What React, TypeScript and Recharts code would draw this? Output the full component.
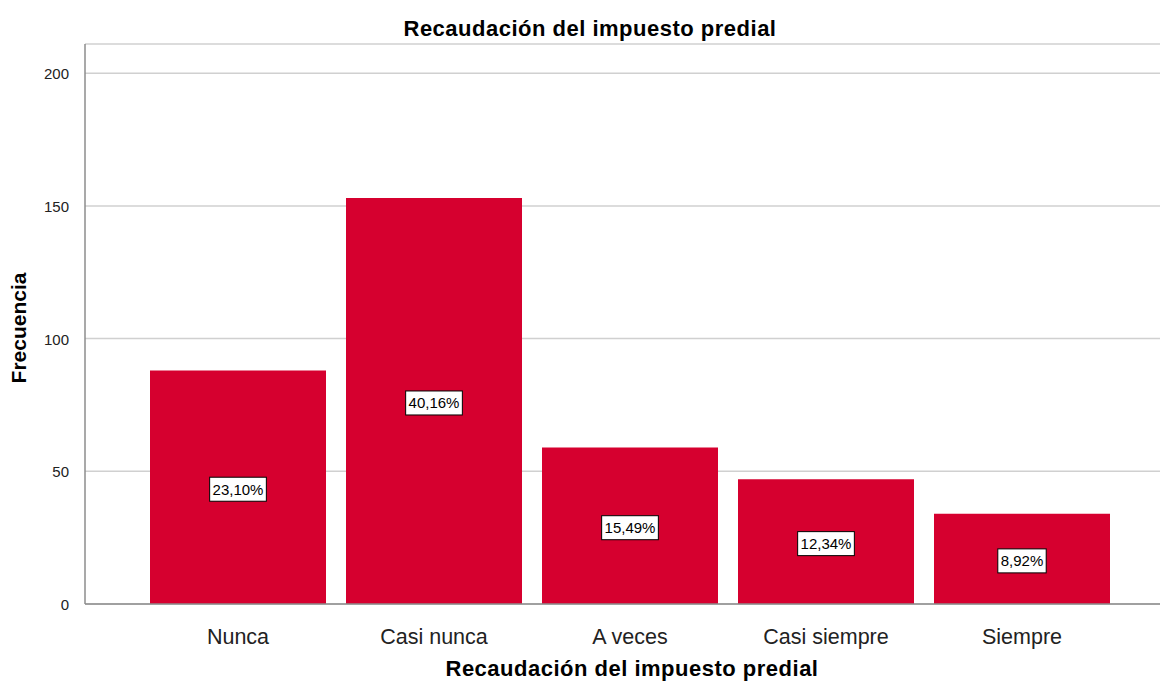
import { Bar, BarChart, CartesianGrid, LabelList, XAxis, YAxis } from "recharts";

const categories = ["Nunca", "Casi nunca", "A veces", "Casi siempre", "Siempre"];
const frequencies = [88, 153, 59, 47, 34];
const percents = ["23,10%", "40,16%", "15,49%", "12,34%", "8,92%"];
const yTicks = [0, 50, 100, 150, 200];

const data = categories.map((name, i) => ({
  name,
  value: frequencies[i],
  pct: percents[i],
}));

const FONT = "'Liberation Sans', Arial, sans-serif";
const BAR_COLOR = "#D6002F";

const CategoryTick = ({ x, y, payload }: any) => (
  <text x={x} y={y + 32} textAnchor="middle" fontSize={21.5} fill="#222" fontFamily={FONT}>
    {payload.value}
  </text>
);

const ValueTick = ({ x, y, payload }: any) => (
  <text x={x - 8} y={y + 6} textAnchor="end" fontSize={15} fill="#222" fontFamily={FONT}>
    {payload.value}
  </text>
);

const PctLabel = ({ x, y, width, height, value }: any) => {
  const cx = x + width / 2;
  const cy = y + height / 2 + 2;
  const s = String(value);
  // rough text width for 15px sans
  const tw = s.split("").reduce((acc, c) => acc + (c === "," ? 4.2 : c === "%" ? 13.3 : 8.3), 0);
  const w = tw + 6;
  return (
    <g>
      <rect x={cx - w / 2} y={cy - 12} width={w} height={24} fill="#fff" stroke="#000" strokeWidth={1} />
      <text x={cx} y={cy + 5.5} textAnchor="middle" fontSize={15} fill="#000" fontFamily={FONT}>
        {value}
      </text>
    </g>
  );
};

const App = () => {
  return (
    <div style={{ position: "absolute", left: 0, top: 0, width: 1162, height: 684, background: "#fff" }}>
      <BarChart
        width={1162}
        height={684}
        data={data}
        margin={{ top: 44, right: 2, bottom: 0, left: 0 }}
      >
        <text
          x={590}
          y={36}
          textAnchor="middle"
          fontSize={22}
          letterSpacing={0.5}
          fontWeight="bold"
          fill="#000"
          fontFamily={FONT}
        >
          Recaudación del impuesto predial
        </text>
        <text
          x={26}
          y={328}
          textAnchor="middle"
          fontSize={21}
          fontWeight="bold"
          fill="#000"
          fontFamily={FONT}
          transform="rotate(-90 26 328)"
        >
          Frecuencia
        </text>
        <text
          x={632}
          y={676}
          textAnchor="middle"
          fontSize={22}
          letterSpacing={0.5}
          fontWeight="bold"
          fill="#000"
          fontFamily={FONT}
        >
          Recaudación del impuesto predial
        </text>
        <CartesianGrid vertical={false} stroke="#d0d0d0" strokeWidth={1.5} />
        <XAxis
          dataKey="name"
          height={80}
          padding={{ left: 55, right: 40 }}
          tick={<CategoryTick />}
          tickLine={false}
          axisLine={{ stroke: "#8c8c8c", strokeWidth: 1.5 }}
          interval={0}
        />
        <YAxis
          width={85}
          domain={[0, 211]}
          ticks={yTicks}
          tick={<ValueTick />}
          tickLine={false}
          axisLine={{ stroke: "#8c8c8c", strokeWidth: 1.5 }}
          allowDataOverflow
        />
        <Bar dataKey="value" fill={BAR_COLOR} barSize={176} isAnimationActive={false}>
          <LabelList dataKey="pct" content={<PctLabel />} />
        </Bar>
      </BarChart>
    </div>
  );
};

export default App;
